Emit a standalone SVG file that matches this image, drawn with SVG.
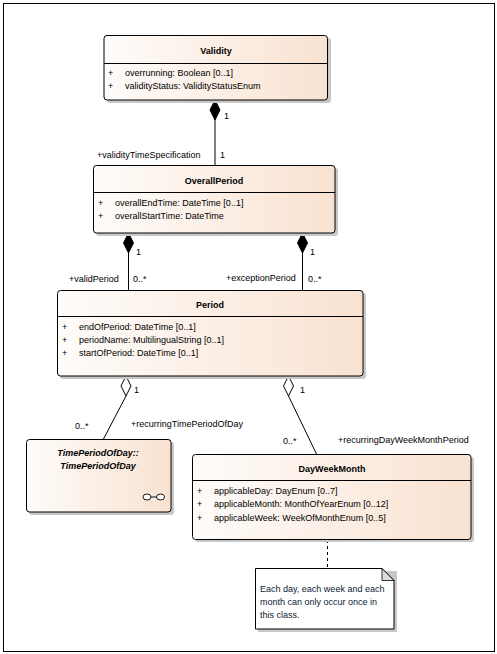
<svg xmlns="http://www.w3.org/2000/svg" width="497" height="654" viewBox="0 0 497 654">
<defs>
<linearGradient id="g" x1="0" y1="0" x2="1" y2="0">
<stop offset="0" stop-color="#fefcfa"/>
<stop offset="1" stop-color="#f9e2d1"/>
</linearGradient>
<style>
.box{fill:url(#g);stroke:#000;stroke-width:1}
.sh{fill:#c8c8c8}
.t{font-family:"Liberation Sans",Arial,sans-serif;font-size:9px;fill:#000}
.b{font-weight:bold;text-anchor:middle}
.i{font-style:italic}
.ln{stroke:#000;stroke-width:1;fill:none}
.note{fill:#0b1a33}
</style>
</defs>
<rect x="3.5" y="3.5" width="491" height="648" fill="#fff" stroke="#000" stroke-width="1"/>

<g id="connectors">
<line class="ln" x1="215" y1="100" x2="215" y2="165"/>
<polygon points="215,100 220,110 215,120 210,110" fill="#000" stroke="#000"/>
<line class="ln" x1="128.5" y1="233" x2="128.5" y2="290"/>
<polygon points="128.5,233 133.5,243 128.5,253 123.5,243" fill="#000" stroke="#000"/>
<line class="ln" x1="302.5" y1="233" x2="302.5" y2="290"/>
<polygon points="302.5,233 307.5,243 302.5,253 297.5,243" fill="#000" stroke="#000"/>
<polyline class="ln" points="126,396 103.5,439"/>
<polygon points="126,376 131,386 126,396 121,386" fill="#fff" stroke="#000"/>
<polyline class="ln" points="288.5,396 316.5,454"/>
<polygon points="288.5,376 293.5,386 288.5,396 283.5,386" fill="#fff" stroke="#000"/>
<line class="ln" x1="327.5" y1="540" x2="327.5" y2="568" stroke-dasharray="3,3"/>
<text class="t" x="224" y="119">1</text>
<text class="t" x="97" y="158">+validityTimeSpecification</text>
<text class="t" x="220" y="158">1</text>
<text class="t" x="136" y="255">1</text>
<text class="t" x="310" y="255">1</text>
<text class="t" x="69" y="282">+validPeriod</text>
<text class="t" x="133" y="282">0..*</text>
<text class="t" x="226" y="281">+exceptionPeriod</text>
<text class="t" x="308" y="282">0..*</text>
<text class="t" x="134" y="393">1</text>
<text class="t" x="300" y="393">1</text>
<text class="t" x="75" y="429">0..*</text>
<text class="t" x="131" y="427">+recurringTimePeriodOfDay</text>
<text class="t" x="283" y="444">0..*</text>
<text class="t" x="338" y="443">+recurringDayWeekMonthPeriod</text>
</g>

<g id="Validity">
<rect class="sh" x="107" y="38" width="224" height="65" rx="3"/>
<rect class="box" x="104" y="35.5" width="223.5" height="64.5" rx="3"/>
<line class="ln" x1="104" y1="63.5" x2="327.5" y2="63.5"/>
<text class="t b" x="216" y="54">Validity</text>
<text class="t" x="108" y="76">+</text>
<text class="t" x="125" y="76">overrunning: Boolean [0..1]</text>
<text class="t" x="108" y="89">+</text>
<text class="t" x="125" y="89">validityStatus: ValidityStatusEnum</text>
</g>

<g id="OverallPeriod">
<rect class="sh" x="96" y="168" width="242" height="68" rx="3"/>
<rect class="box" x="93.5" y="165.5" width="241.5" height="67.5" rx="3"/>
<line class="ln" x1="93.5" y1="192.5" x2="335" y2="192.5"/>
<text class="t b" x="214" y="184">OverallPeriod</text>
<text class="t" x="98" y="206">+</text>
<text class="t" x="115" y="206">overallEndTime: DateTime [0..1]</text>
<text class="t" x="98" y="219">+</text>
<text class="t" x="115" y="219">overallStartTime: DateTime</text>
</g>

<g id="Period">
<rect class="sh" x="60" y="293" width="306" height="86" rx="3"/>
<rect class="box" x="57.5" y="290.5" width="305.5" height="85.5" rx="3"/>
<line class="ln" x1="57.5" y1="316.5" x2="363" y2="316.5"/>
<text class="t b" x="210" y="308">Period</text>
<text class="t" x="62" y="330">+</text>
<text class="t" x="79" y="330">endOfPeriod: DateTime [0..1]</text>
<text class="t" x="62" y="343">+</text>
<text class="t" x="79" y="343">periodName: MultilingualString [0..1]</text>
<text class="t" x="62" y="356">+</text>
<text class="t" x="79" y="356">startOfPeriod: DateTime [0..1]</text>
</g>

<g id="TimePeriodOfDay">
<rect class="sh" x="29" y="442" width="145" height="73" rx="3"/>
<rect class="box" x="26.5" y="439.5" width="144.5" height="72.5" rx="3"/>
<text class="t b i" x="98" y="456">TimePeriodOfDay::</text>
<text class="t b i" x="98" y="469">TimePeriodOfDay</text>
<ellipse cx="147" cy="497" rx="4" ry="3" fill="#fff" stroke="#000" stroke-width="0.9"/>
<ellipse cx="160.5" cy="497" rx="4" ry="3" fill="#fff" stroke="#000" stroke-width="0.9"/>
<line x1="151" y1="497" x2="156.5" y2="497" stroke="#000" stroke-width="0.9"/>
</g>

<g id="DayWeekMonth">
<rect class="sh" x="195" y="457" width="279" height="85" rx="3"/>
<rect class="box" x="192.5" y="454.5" width="278.5" height="85" rx="3"/>
<line class="ln" x1="192.5" y1="480.5" x2="471" y2="480.5"/>
<text class="t b" x="332" y="472">DayWeekMonth</text>
<text class="t" x="197" y="494">+</text>
<text class="t" x="214" y="494">applicableDay: DayEnum [0..7]</text>
<text class="t" x="197" y="507">+</text>
<text class="t" x="214" y="507">applicableMonth: MonthOfYearEnum [0..12]</text>
<text class="t" x="197" y="521">+</text>
<text class="t" x="214" y="521">applicableWeek: WeekOfMonthEnum [0..5]</text>
</g>

<g id="Note">
<rect class="sh" x="258" y="571" width="139" height="61"/>
<polygon points="255.5,568.5 382,568.5 394,580.5 394,629 255.5,629" fill="#fff" stroke="#000"/>
<polygon points="382,568.5 394,580.5 382,580.5" fill="#ddd" stroke="#000" stroke-width="0.8"/>
<text class="t note" x="260" y="592">Each day, each week and each</text>
<text class="t note" x="260" y="605">month can only occur once in</text>
<text class="t note" x="260" y="618">this class.</text>
</g>
</svg>
